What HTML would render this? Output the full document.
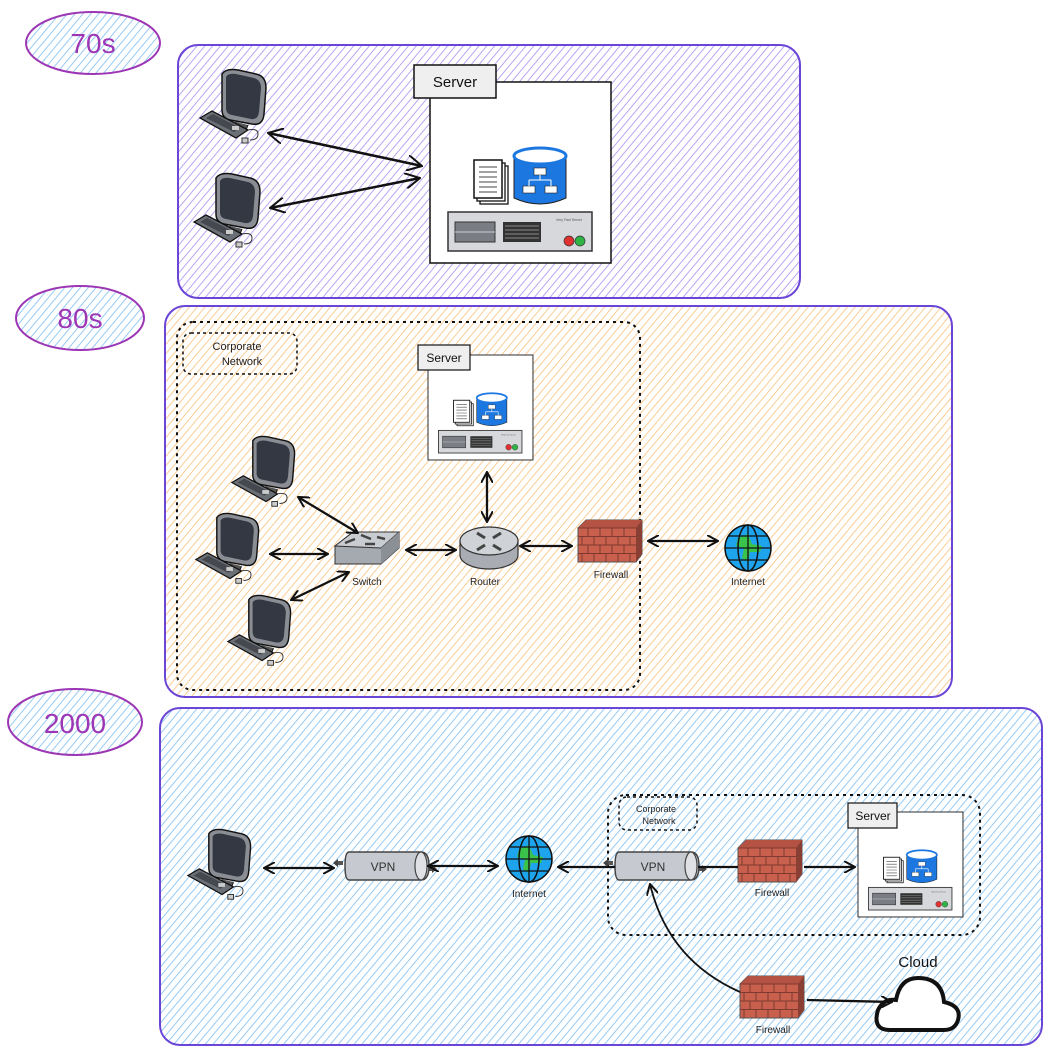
<!DOCTYPE html>
<html><head><meta charset="utf-8"><style>
html,body{margin:0;padding:0;background:#fff;}
svg{display:block;}
text{font-family:"Liberation Sans",sans-serif;}
</style></head><body>
<svg width="1050" height="1054" viewBox="0 0 1050 1054" xmlns="http://www.w3.org/2000/svg">
<defs>
<pattern id="hp" width="6" height="6" patternUnits="userSpaceOnUse" patternTransform="rotate(40)"><line x1="0" y1="0" x2="0" y2="6" stroke="#a98ff0" stroke-width="1.6"/></pattern>
<pattern id="ho" width="6" height="6" patternUnits="userSpaceOnUse" patternTransform="rotate(40)"><line x1="0" y1="0" x2="0" y2="6" stroke="#fbbf7a" stroke-width="1.6"/></pattern>
<pattern id="hb" width="6" height="6" patternUnits="userSpaceOnUse" patternTransform="rotate(40)"><line x1="0" y1="0" x2="0" y2="6" stroke="#7cbdf2" stroke-width="1.6"/></pattern>
<marker id="ah" viewBox="0 0 12 12" refX="11" refY="6" markerWidth="12" markerHeight="12" markerUnits="userSpaceOnUse" orient="auto-start-reverse"><path d="M0,0 L11,6 L0,12" fill="none" stroke="#111" stroke-width="2"/></marker>
<marker id="ah2" viewBox="0 0 16 16" refX="15" refY="8" markerWidth="16" markerHeight="16" markerUnits="userSpaceOnUse" orient="auto-start-reverse"><path d="M0,0 L15,8 L0,16" fill="none" stroke="#111" stroke-width="2"/></marker>

<g id="pc">
 <path d="M24,6 Q28,0 40,2 L58,6 Q68,8 68,20 L66,46 Q65,58 54,56 L32,52 Q24,50 24,42Z" fill="#8a8d93" stroke="#111" stroke-width="1.5"/>
 <path d="M28,9 Q30,5 38,6 L56,10 Q63,12 63,20 L61,44 Q60,52 53,51 L34,47 Q28,46 28,40Z" fill="#343842"/>
 <path d="M38,54 L36,60 L48,62 L50,57" fill="#555" stroke="#111" stroke-width="1"/>
 <path d="M2,50 L14,43 L50,62 L38,70Z" fill="#6b6f76" stroke="#111" stroke-width="1.3"/>
 <path d="M8,50 L15,46 L42,60 L36,64Z" fill="#45484f"/>
 <rect x="34" y="58" width="7" height="4" fill="#ccc"/>
 <path d="M50,62 Q60,60 60,66 Q60,72 52,72" fill="none" stroke="#333" stroke-width="1"/>
 <rect x="44" y="70" width="6" height="5" fill="#ccc" stroke="#333" stroke-width="1"/>
</g>

<g id="srv">
 <rect x="0" y="0" width="181" height="181" fill="#fff" stroke="#111" stroke-width="1.5"/>
 <g transform="translate(44,78)">
  <rect x="6" y="6" width="28" height="38" fill="#fff" stroke="#111" stroke-width="1.3"/>
  <rect x="3" y="3" width="28" height="38" fill="#fff" stroke="#111" stroke-width="1.3"/>
  <rect x="0" y="0" width="28" height="38" fill="#fff" stroke="#111" stroke-width="1.5"/>
  <path d="M5,7h18M5,12h18M5,17h18M5,22h18M5,27h18M5,32h18" stroke="#444" stroke-width="1"/>
 </g>
 <g transform="translate(84,66)">
  <path d="M0,8 L0,50 Q26,62 52,50 L52,8Z" fill="#1d77e0" stroke="#222" stroke-width="1"/>
  <ellipse cx="26" cy="8" rx="26" ry="8" fill="#fff" stroke="#1d77e0" stroke-width="3"/>
  <rect x="20" y="20" width="12" height="7" fill="#fff" stroke="#222" stroke-width=".6"/>
  <rect x="9" y="38" width="12" height="7" fill="#fff" stroke="#222" stroke-width=".6"/>
  <rect x="31" y="38" width="12" height="7" fill="#fff" stroke="#222" stroke-width=".6"/>
  <path d="M26,27v5M15,32h22M15,32v6M37,32v6" stroke="#fff" stroke-width="1"/>
 </g>
 <g transform="translate(18,130)">
  <rect x="0" y="0" width="144" height="39" fill="#d6d8dc" stroke="#333" stroke-width="1.5"/>
  <rect x="7" y="10" width="40" height="20" fill="#7a7d83" stroke="#333"/>
  <line x1="7" y1="20" x2="47" y2="20" stroke="#ccc"/>
  <rect x="55" y="10" width="38" height="20" fill="#333"/>
  <path d="M57,14h34M57,18h34M57,22h34M57,26h34" stroke="#888" stroke-width="1"/>
  <circle cx="121" cy="29" r="5" fill="#e03131" stroke="#333" stroke-width=".7"/>
  <circle cx="132" cy="29" r="5" fill="#2fb344" stroke="#333" stroke-width=".7"/>
  <text x="108" y="9" font-size="3.5" fill="#555">Very Fast Server</text>
 </g>
</g>

<g id="fw">
 <path d="M0,8 L8,0 L64,0 L64,34 L58,42 L0,42Z" fill="#c8604d" stroke="#555" stroke-width="1"/>
 <path d="M0,8 L8,0 L64,0 L58,8Z" fill="#b45343"/>
 <path d="M58,8 L64,0 L64,34 L58,42Z" fill="#8a3f34"/>
 <path d="M0,8h58M0,16.5h58M0,25h58M0,33.5h58M10,8v8.5M22,8v8.5M34,8v8.5M46,8v8.5M4,16.5v8.5M16,16.5v8.5M28,16.5v8.5M40,16.5v8.5M52,16.5v8.5M10,25v8.5M22,25v8.5M34,25v8.5M46,25v8.5M4,33.5v8.5M16,33.5v8.5M28,33.5v8.5M40,33.5v8.5M52,33.5v8.5" stroke="#7d3a30" stroke-width="1" fill="none"/>
</g>

<g id="globe">
 <circle cx="24" cy="24" r="23" fill="#1ea4ec" stroke="#111" stroke-width="1.5"/>
 <path d="M14,14 L24,10 L28,20 L38,22 L36,28 L26,28 L24,38 L18,34 L20,24 L12,22Z" fill="#3bc24a"/>
 <ellipse cx="24" cy="24" rx="10" ry="23" fill="none" stroke="#111" stroke-width="1.5"/>
 <path d="M1,24h46M5,12h38M5,36h38M24,1v46" stroke="#111" stroke-width="1.3"/>
</g>

<g id="vpn">
 <path d="M-10,11 h8 M80,17 h10" stroke="#555" stroke-width="4"/>
 <path d="M-12,11 l5,-4 v8z M92,17 l-5,-4 v8z" fill="#444"/>
 <path d="M4,0 H76 Q84,0 84,14 Q84,28 76,28 H4 Q0,28 0,14 Q0,0 4,0Z" fill="#c6c9cf" stroke="#444" stroke-width="1.5"/>
 <ellipse cx="76" cy="14" rx="6" ry="14" fill="#dfe1e5" stroke="#444" stroke-width="1.2"/>
 <text x="38" y="19" font-size="12" text-anchor="middle" fill="#333">VPN</text>
</g>
</defs>

<!-- 70s -->
<rect x="178" y="45" width="622" height="253" rx="20" fill="url(#hp)" stroke="#6b45d6" stroke-width="2"/>
<ellipse cx="93" cy="43" rx="67" ry="31" fill="url(#hb)" stroke="#9c36b5" stroke-width="2"/>
<text x="93" y="53" font-size="28" text-anchor="middle" fill="#9c36b5">70s</text>
<use href="#pc" x="198" y="68"/>
<use href="#pc" x="192" y="172"/>
<use href="#srv" x="430" y="82"/>
<rect x="414" y="65" width="82" height="33" fill="#efefef" stroke="#111" stroke-width="1.5"/>
<text x="455" y="87" font-size="15" text-anchor="middle" fill="#111">Server</text>
<line x1="268" y1="133" x2="422" y2="166" stroke="#111" stroke-width="2.5" marker-start="url(#ah2)" marker-end="url(#ah2)"/>
<line x1="270" y1="208" x2="420" y2="178" stroke="#111" stroke-width="2.5" marker-start="url(#ah2)" marker-end="url(#ah2)"/>

<!-- 80s -->
<rect x="165" y="306" width="787" height="391" rx="20" fill="url(#ho)" stroke="#6b45d6" stroke-width="2"/>
<ellipse cx="80" cy="318" rx="64" ry="32" fill="url(#hb)" stroke="#9c36b5" stroke-width="2"/>
<text x="80" y="328" font-size="28" text-anchor="middle" fill="#9c36b5">80s</text>
<rect x="177" y="322" width="463" height="368" rx="16" fill="none" stroke="#111" stroke-width="2" stroke-dasharray="3 4"/>
<rect x="183" y="333" width="114" height="41" rx="8" fill="#fff8ef" fill-opacity="0" stroke="#111" stroke-width="1.5" stroke-dasharray="3 3"/>
<text x="237" y="350" font-size="11" text-anchor="middle" fill="#222">Corporate</text>
<text x="242" y="365" font-size="11" text-anchor="middle" fill="#222">Network</text>
<g transform="translate(428,355) scale(0.58)"><use href="#srv"/></g>
<rect x="418" y="345" width="52" height="25" fill="#efefef" stroke="#111" stroke-width="1.2"/>
<text x="444" y="362" font-size="12" text-anchor="middle" fill="#111">Server</text>
<g transform="translate(230,435) scale(0.95)"><use href="#pc"/></g>
<g transform="translate(194,512) scale(0.95)"><use href="#pc"/></g>
<g transform="translate(226,594) scale(0.95)"><use href="#pc"/></g>
<!-- switch -->
<g transform="translate(335,530)">
 <path d="M0,16 L18,2 L64,2 L64,18 L46,34 L0,34Z" fill="#a5a9b0" stroke="#333" stroke-width="1"/>
 <path d="M0,16 L18,2 L64,2 L46,18Z" fill="#c9ccd1" stroke="#333" stroke-width="1"/>
 <path d="M46,18 L64,2 L64,18 L46,34Z" fill="#8b8f96"/>
 <path d="M10,13 l10,-4 M26,5 l10,4 M30,14 l10,0 M42,7 l8,2" stroke="#444" stroke-width="2.5"/>
</g>
<text x="367" y="585" font-size="10" text-anchor="middle" fill="#222">Switch</text>
<!-- router -->
<g transform="translate(460,525)">
 <path d="M0,16 V30 A29,14 0 0 0 58,30 V16" fill="#a9adb3" stroke="#333" stroke-width="1.2"/>
 <ellipse cx="29" cy="16" rx="29" ry="14" fill="#cfd2d6" stroke="#333" stroke-width="1.2"/>
 <path d="M17,8 l8,5 M41,8 l-8,5 M17,25 l8,-5 M41,25 l-8,-5" stroke="#444" stroke-width="3"/>
</g>
<text x="485" y="585" font-size="10" text-anchor="middle" fill="#222">Router</text>
<use href="#fw" x="578" y="520"/>
<text x="611" y="578" font-size="10" text-anchor="middle" fill="#222">Firewall</text>
<use href="#globe" x="724" y="524"/>
<text x="748" y="585" font-size="10" text-anchor="middle" fill="#222">Internet</text>
<g stroke="#111" stroke-width="2.3" marker-start="url(#ah)" marker-end="url(#ah)">
 <line x1="298" y1="497" x2="358" y2="533"/>
 <line x1="270" y1="554" x2="328" y2="554"/>
 <line x1="291" y1="600" x2="349" y2="572"/>
 <line x1="406" y1="550" x2="456" y2="550"/>
 <line x1="487" y1="472" x2="487" y2="522"/>
 <line x1="520" y1="546" x2="572" y2="546"/>
 <line x1="648" y1="541" x2="718" y2="541"/>
</g>

<!-- 2000 -->
<rect x="160" y="708" width="882" height="337" rx="20" fill="url(#hb)" stroke="#6b45d6" stroke-width="2"/>
<ellipse cx="75" cy="722" rx="67" ry="33" fill="url(#hb)" stroke="#9c36b5" stroke-width="2"/>
<text x="75" y="733" font-size="28" text-anchor="middle" fill="#9c36b5">2000</text>
<rect x="608" y="795" width="372" height="140" rx="18" fill="none" stroke="#111" stroke-width="2" stroke-dasharray="3 4"/>
<rect x="619" y="797" width="78" height="33" rx="8" fill="none" stroke="#111" stroke-width="1.5" stroke-dasharray="3 3"/>
<text x="656" y="812" font-size="9" text-anchor="middle" fill="#222">Corporate</text>
<text x="659" y="824" font-size="9" text-anchor="middle" fill="#222">Network</text>
<g transform="translate(186,828) scale(0.95)"><use href="#pc"/></g>
<use href="#vpn" x="345" y="852"/>
<use href="#globe" x="505" y="835"/>
<text x="529" y="897" font-size="10" text-anchor="middle" fill="#222">Internet</text>
<use href="#vpn" x="615" y="852"/>
<use href="#fw" x="738" y="840"/>
<text x="772" y="896" font-size="10" text-anchor="middle" fill="#222">Firewall</text>
<g transform="translate(858,812) scale(0.58)"><use href="#srv"/></g>
<rect x="848" y="803" width="49" height="25" fill="#efefef" stroke="#111" stroke-width="1.2"/>
<text x="873" y="820" font-size="12" text-anchor="middle" fill="#111">Server</text>
<use href="#fw" x="740" y="976"/>
<text x="773" y="1033" font-size="10" text-anchor="middle" fill="#222">Firewall</text>
<path d="M890,1030 Q872,1030 878,1010 Q884,998 896,1000 Q900,978 918,978 Q942,978 944,1002 Q962,1006 958,1020 Q955,1030 944,1030Z" fill="#fff" stroke="#111" stroke-width="4"/>
<text x="918" y="967" font-size="15" text-anchor="middle" fill="#111">Cloud</text>
<g stroke="#111" stroke-width="2.3" fill="none">
 <line x1="264" y1="868" x2="334" y2="868" marker-start="url(#ah)" marker-end="url(#ah)"/>
 <line x1="428" y1="866" x2="498" y2="866" marker-start="url(#ah)" marker-end="url(#ah)"/>
 <line x1="615" y1="867" x2="558" y2="867" marker-end="url(#ah)"/>
 <line x1="698" y1="867" x2="738" y2="867"/>
 <line x1="804" y1="867" x2="855" y2="867" marker-end="url(#ah)"/>
 <path d="M740,992 Q668,960 650,884" stroke-width="1.8" marker-end="url(#ah)"/>
 <line x1="807" y1="1000" x2="892" y2="1002" marker-end="url(#ah)"/>
</g>
</svg>
</body></html>
